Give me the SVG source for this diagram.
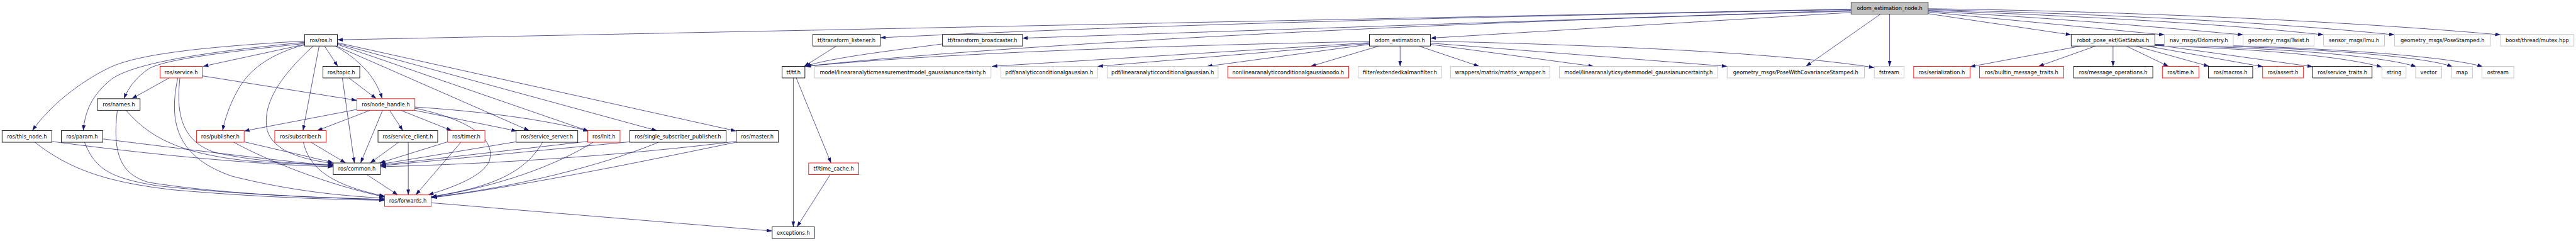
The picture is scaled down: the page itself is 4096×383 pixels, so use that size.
<svg xmlns="http://www.w3.org/2000/svg" width="4096" height="383" viewBox="0 0 4096 383">
<style>
.n rect{fill:#fff;stroke:#000;stroke-width:1.3}
.n.r rect{stroke:#ff0000}
.n.g rect{stroke:#bfbfbf}
.n.top rect{fill:#bfbfbf;stroke:#404040}
.n text{font-family:"DejaVu Sans","Liberation Sans",sans-serif;font-size:12.6px;text-anchor:middle;fill:#000}
#edges path{fill:none;stroke:#191970;stroke-width:1.1;marker-end:url(#a)}
</style>
<defs>
<marker id="a" markerUnits="userSpaceOnUse" markerWidth="13" markerHeight="9" viewBox="0 0 13 9" refX="13" refY="4.5" orient="auto">
<path d="M0,0 L13,4.5 L0,9 z" fill="#191970"/>
</marker>
</defs>
<rect width="4096" height="383" fill="#fff"/>
<g transform="scale(0.65905)">
<g id="edges">
<path d="M4466,22 L814,96"/>
<path d="M4466,23 C3600,40 2800,58 2124,91"/>
<path d="M4466,25 L2467,92"/>
<path d="M4466,27 C3600,50 2500,100 1942,160"/>
<path d="M4466,30 L3451,92"/>
<path d="M4537,34 L4357,160"/>
<path d="M4559,34 L4559,160"/>
<path d="M4652,33 L4997,84"/>
<path d="M4652,29 L5222,84"/>
<path d="M4652,27 C4900,40 5150,60 5412,84"/>
<path d="M4652,25 C4950,36 5350,55 5606,84"/>
<path d="M4652,23 C5000,32 5450,50 5777,84"/>
<path d="M4652,21 C5000,25 5600,45 6033,84"/>
<path d="M3451,99 C3900,110 4300,128 4522,163"/>
<path d="M3451,104 L4167,160"/>
<path d="M3451,107 L3845,160"/>
<path d="M3423,111 L3569,160"/>
<path d="M3378,111 L3378,160"/>
<path d="M3327,111 L3162,160"/>
<path d="M3304,107 L2912,160"/>
<path d="M3304,105 L2648,160"/>
<path d="M3304,103 L2393,160"/>
<path d="M3304,100 C2900,108 2300,125 1944,160"/>
<path d="M2018,111 L1940,160"/>
<path d="M2274,106 C2150,122 2000,140 1943,160"/>
<path d="M5020,111 L4753,161"/>
<path d="M5056,111 L4918,160"/>
<path d="M5098,111 L5098,160"/>
<path d="M5130,111 L5232,160"/>
<path d="M5153,111 L5330,160"/>
<path d="M5180,111 L5460,161"/>
<path d="M5199,108 L5580,161"/>
<path d="M5199,110 C5450,118 5650,135 5747,162"/>
<path d="M5199,109 C5500,115 5750,135 5830,161"/>
<path d="M5199,108 C5550,112 5850,135 5917,161"/>
<path d="M5199,107 C5600,110 5920,138 5990,161"/>
<path d="M783,111 L815,160"/>
<path d="M735,99 C450,115 320,135 260,165 C190,200 120,255 78,315"/>
<path d="M735,102 C500,125 330,150 270,190 C220,230 205,270 201,315"/>
<path d="M735,105 C500,130 400,145 360,165 C330,185 310,210 299,238"/>
<path d="M735,107 L490,160"/>
<path d="M735,108 C650,130 600,170 575,215 C555,250 543,285 537,315"/>
<path d="M770,111 L731,315"/>
<path d="M756,111 C680,180 630,250 645,315 C660,365 730,385 804,394"/>
<path d="M809,111 C860,140 905,180 922,238"/>
<path d="M811,111 L1277,315"/>
<path d="M814,107 L1420,316"/>
<path d="M814,105 L1585,315"/>
<path d="M814,103 L1776,316"/>
<path d="M408,188 L318,238"/>
<path d="M488,183 L861,242"/>
<path d="M434,188 C425,270 435,340 520,368 C620,390 720,395 804,397"/>
<path d="M429,188 C405,300 430,380 560,425 C700,460 820,472 928,478"/>
<path d="M304,266 C360,330 430,370 600,388 C700,395 760,397 804,399"/>
<path d="M283,266 C272,360 285,420 360,440 C550,470 800,478 928,481"/>
<path d="M125,341 C400,378 650,398 804,402"/>
<path d="M84,343 C170,410 260,440 420,458 C650,478 820,481 928,483"/>
<path d="M248,335 C450,360 650,385 804,400"/>
<path d="M204,343 C230,410 270,430 380,448 C600,472 800,477 928,481"/>
<path d="M589,342 L804,392"/>
<path d="M564,343 C650,390 790,445 928,475"/>
<path d="M750,343 L834,393"/>
<path d="M732,343 C745,400 790,445 928,473"/>
<path d="M861,264 L589,316"/>
<path d="M893,266 L765,315"/>
<path d="M940,266 L972,315"/>
<path d="M967,266 L1090,315"/>
<path d="M1000,266 L1247,316"/>
<path d="M1001,258 C1150,268 1300,285 1420,316"/>
<path d="M923,266 L870,393"/>
<path d="M1001,261 C1120,285 1200,330 1180,390 C1160,430 1080,455 1033,470"/>
<path d="M842,188 L908,238"/>
<path d="M826,188 L855,393"/>
<path d="M962,343 L893,393"/>
<path d="M985,343 L985,470"/>
<path d="M1080,342 L916,393"/>
<path d="M1112,343 L1003,470"/>
<path d="M1245,342 L918,396"/>
<path d="M1309,343 C1270,410 1200,450 1041,474"/>
<path d="M1418,341 L918,398"/>
<path d="M1431,343 C1340,400 1200,450 1041,475"/>
<path d="M1519,342 L918,400"/>
<path d="M1589,343 C1450,400 1250,450 1041,476"/>
<path d="M1776,341 C1500,375 1200,395 918,402"/>
<path d="M1776,343 C1500,400 1250,450 1041,477"/>
<path d="M885,421 L960,470"/>
<path d="M1040,489 L1863,557"/>
<path d="M1914,188 L1914,547"/>
<path d="M1921,188 L2005,393"/>
<path d="M2003,421 L1923,547"/>
</g>
<g id="n-odom-estimation-node-h" class="n top"><rect x="4466" y="6" width="186" height="28"/><text x="4559" y="24.3">odom_estimation_node.h</text></g>
<g id="n-ros-ros-h" class="n"><rect x="735" y="83" width="79" height="28"/><text x="774.5" y="101.3">ros/ros.h</text></g>
<g id="n-tf-transform-listener-h" class="n"><rect x="1961" y="83" width="163" height="28"/><text x="2042.5" y="101.3">tf/transform_listener.h</text></g>
<g id="n-tf-transform-broadcaster-h" class="n"><rect x="2274" y="83" width="193" height="28"/><text x="2370.5" y="101.3">tf/transform_broadcaster.h</text></g>
<g id="n-odom-estimation-h" class="n"><rect x="3304" y="83" width="147" height="28"/><text x="3377.5" y="101.3">odom_estimation.h</text></g>
<g id="n-getstatus-h" class="n"><rect x="4997" y="83" width="202" height="28"/><text x="5098" y="101.3">robot_pose_ekf/GetStatus.h</text></g>
<g id="n-odometry-h" class="n g"><rect x="5222" y="83" width="166" height="28"/><text x="5305" y="101.3">nav_msgs/Odometry.h</text></g>
<g id="n-twist-h" class="n g"><rect x="5412" y="83" width="171" height="28"/><text x="5497.5" y="101.3">geometry_msgs/Twist.h</text></g>
<g id="n-imu-h" class="n g"><rect x="5606" y="83" width="147" height="28"/><text x="5679.5" y="101.3">sensor_msgs/Imu.h</text></g>
<g id="n-posestamped-h" class="n g"><rect x="5777" y="83" width="232" height="28"/><text x="5893" y="101.3">geometry_msgs/PoseStamped.h</text></g>
<g id="n-mutex-hpp" class="n g"><rect x="6033" y="83" width="177" height="28"/><text x="6121.5" y="101.3">boost/thread/mutex.hpp</text></g>
<g id="n-ros-service-h" class="n r"><rect x="386" y="160" width="102" height="28"/><text x="437" y="178.3">ros/service.h</text></g>
<g id="n-ros-topic-h" class="n"><rect x="779" y="160" width="89" height="28"/><text x="823.5" y="178.3">ros/topic.h</text></g>
<g id="n-tf-tf-h" class="n"><rect x="1887" y="160" width="55" height="28"/><text x="1914.5" y="178.3">tf/tf.h</text></g>
<g id="n-linmeas-h" class="n g"><rect x="1965" y="160" width="426" height="28"/><text x="2178" y="178.3">model/linearanalyticmeasurementmodel_gaussianuncertainty.h</text></g>
<g id="n-analyticcond-h" class="n g"><rect x="2415" y="160" width="233" height="28"/><text x="2531.5" y="178.3">pdf/analyticconditionalgaussian.h</text></g>
<g id="n-linanalyticcond-h" class="n g"><rect x="2671" y="160" width="268" height="28"/><text x="2805" y="178.3">pdf/linearanalyticconditionalgaussian.h</text></g>
<g id="n-nonlinear-odo-h" class="n r"><rect x="2962" y="160" width="292" height="28"/><text x="3108" y="178.3">nonlinearanalyticconditionalgaussianodo.h</text></g>
<g id="n-ekf-h" class="n g"><rect x="3277" y="160" width="201" height="28"/><text x="3377.5" y="178.3">filter/extendedkalmanfilter.h</text></g>
<g id="n-matrix-wrapper-h" class="n g"><rect x="3500" y="160" width="239" height="28"/><text x="3619.5" y="178.3">wrappers/matrix/matrix_wrapper.h</text></g>
<g id="n-linsys-h" class="n g"><rect x="3762" y="160" width="382" height="28"/><text x="3953" y="178.3">model/linearanalyticsystemmodel_gaussianuncertainty.h</text></g>
<g id="n-posecov-h" class="n g"><rect x="4167" y="160" width="331" height="28"/><text x="4332.5" y="178.3">geometry_msgs/PoseWithCovarianceStamped.h</text></g>
<g id="n-fstream" class="n g"><rect x="4522" y="160" width="72" height="28"/><text x="4558" y="178.3">fstream</text></g>
<g id="n-serialization-h" class="n r"><rect x="4617" y="160" width="136" height="28"/><text x="4685" y="178.3">ros/serialization.h</text></g>
<g id="n-builtin-h" class="n r"><rect x="4776" y="160" width="203" height="28"/><text x="4877.5" y="178.3">ros/builtin_message_traits.h</text></g>
<g id="n-msgops-h" class="n"><rect x="5003" y="160" width="191" height="28"/><text x="5098.5" y="178.3">ros/message_operations.h</text></g>
<g id="n-time-h" class="n r"><rect x="5217" y="160" width="88" height="28"/><text x="5261" y="178.3">ros/time.h</text></g>
<g id="n-macros-h" class="n"><rect x="5328" y="160" width="107" height="28"/><text x="5381.5" y="178.3">ros/macros.h</text></g>
<g id="n-assert-h" class="n r"><rect x="5459" y="160" width="98" height="28"/><text x="5508" y="178.3">ros/assert.h</text></g>
<g id="n-service-traits-h" class="n"><rect x="5580" y="160" width="143" height="28"/><text x="5651.5" y="178.3">ros/service_traits.h</text></g>
<g id="n-string" class="n g"><rect x="5747" y="160" width="58" height="28"/><text x="5776" y="178.3">string</text></g>
<g id="n-vector" class="n g"><rect x="5828" y="160" width="63" height="28"/><text x="5859.5" y="178.3">vector</text></g>
<g id="n-map" class="n g"><rect x="5915" y="160" width="50" height="28"/><text x="5940" y="178.3">map</text></g>
<g id="n-ostream" class="n g"><rect x="5988" y="160" width="77" height="28"/><text x="6026.5" y="178.3">ostream</text></g>
<g id="n-names-h" class="n"><rect x="235" y="238" width="103" height="28"/><text x="286.5" y="256.3">ros/names.h</text></g>
<g id="n-node-handle-h" class="n r"><rect x="861" y="238" width="140" height="28"/><text x="931" y="256.3">ros/node_handle.h</text></g>
<g id="n-this-node-h" class="n"><rect x="5" y="315" width="120" height="28"/><text x="65" y="333.3">ros/this_node.h</text></g>
<g id="n-param-h" class="n"><rect x="148" y="315" width="100" height="28"/><text x="198" y="333.3">ros/param.h</text></g>
<g id="n-publisher-h" class="n r"><rect x="474" y="315" width="115" height="28"/><text x="531.5" y="333.3">ros/publisher.h</text></g>
<g id="n-subscriber-h" class="n r"><rect x="663" y="315" width="124" height="28"/><text x="725" y="333.3">ros/subscriber.h</text></g>
<g id="n-service-client-h" class="n"><rect x="912" y="315" width="144" height="28"/><text x="984" y="333.3">ros/service_client.h</text></g>
<g id="n-timer-h" class="n r"><rect x="1080" y="315" width="90" height="28"/><text x="1125" y="333.3">ros/timer.h</text></g>
<g id="n-service-server-h" class="n"><rect x="1245" y="315" width="149" height="28"/><text x="1319.5" y="333.3">ros/service_server.h</text></g>
<g id="n-init-h" class="n r"><rect x="1418" y="315" width="78" height="28"/><text x="1457" y="333.3">ros/init.h</text></g>
<g id="n-single-sub-pub-h" class="n"><rect x="1519" y="315" width="233" height="28"/><text x="1635.5" y="333.3">ros/single_subscriber_publisher.h</text></g>
<g id="n-master-h" class="n"><rect x="1776" y="315" width="102" height="28"/><text x="1827" y="333.3">ros/master.h</text></g>
<g id="n-common-h" class="n"><rect x="804" y="393" width="114" height="28"/><text x="861" y="411.3">ros/common.h</text></g>
<g id="n-time-cache-h" class="n r"><rect x="1951" y="393" width="121" height="28"/><text x="2011.5" y="411.3">tf/time_cache.h</text></g>
<g id="n-forwards-h" class="n r"><rect x="928" y="470" width="112" height="28"/><text x="984" y="488.3">ros/forwards.h</text></g>
<g id="n-exceptions-h" class="n"><rect x="1863" y="547" width="102" height="28"/><text x="1914" y="565.3">exceptions.h</text></g>
</g>
</svg>
